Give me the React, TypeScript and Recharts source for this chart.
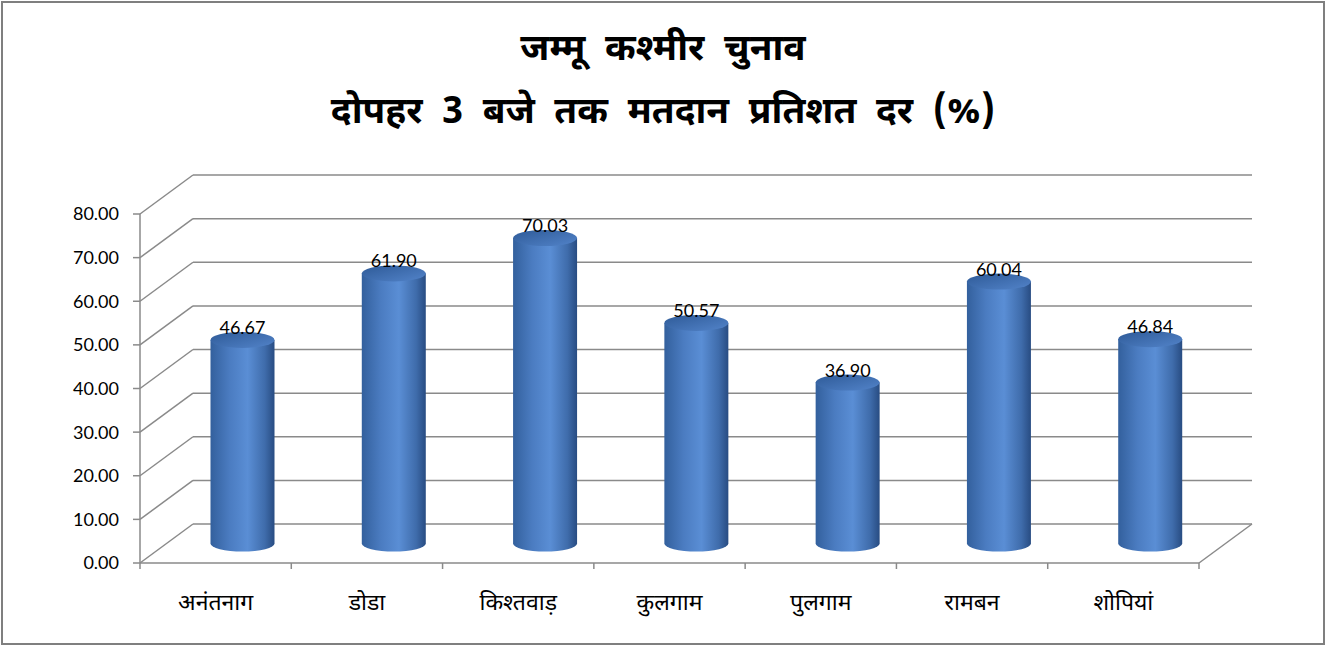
import { BarChart, Bar, XAxis, YAxis, CartesianGrid } from 'recharts';

const districts = ['अनंतनाग', 'डोडा', 'किश्तवाड़', 'कुलगाम', 'पुलगाम', 'रामबन', 'शोपियां'];
const turnout = [46.67, 61.9, 70.03, 50.57, 36.9, 60.04, 46.84];
const yTicks = [0, 10, 20, 30, 40, 50, 60, 70, 80];
const titleLines = ['जम्मू कश्मीर चुनाव', 'दोपहर 3 बजे तक मतदान प्रतिशत दर (%)'];

const data = districts.map((name, i) => ({ name, value: turnout[i] }));

// depth of the 3-D box (back wall offset from the front plane)
const DX = 53;
const DY = -39;
const GRID = '#8a8a8a';
const NUM_FONT = 'Lato, "Open Sans", sans-serif';
const DEVA_FONT = '"Noto Sans Devanagari", "Noto Sans", sans-serif';

function GridLine(props: any) {
  const { x1, y1, x2, y2, index } = props;
  const bottom = props.y != null && props.height != null ? props.y + props.height : null;
  const isFloor = bottom != null && Math.abs(y1 - bottom) < 1;
  return (
    <g key={`g-${index}`}>
      <line x1={x1} y1={y1} x2={x1 + DX} y2={y1 + DY} stroke={GRID} strokeWidth={1.5} />
      <line x1={x1 + DX} y1={y1 + DY} x2={x2 + DX} y2={y2 + DY} stroke={GRID} strokeWidth={1.5} />
      {isFloor && (
        <line x1={x2} y1={y2} x2={x2 + DX} y2={y2 + DY} stroke={GRID} strokeWidth={1.5} />
      )}
    </g>
  );
}

function Cylinder(props: any) {
  const { x, y, width, height, value } = props;
  if (width == null || height == null) return null;
  const rx = width / 2;
  const ry = 8;
  const cx = x + rx + DX / 2;
  const top = y + DY / 2;
  const bot = y + height + DY / 2;
  const x0 = cx - rx;
  const x1 = cx + rx;
  return (
    <g>
      <path
        d={`M${x0},${top} L${x0},${bot} A${rx},${ry} 0 0 0 ${x1},${bot} L${x1},${top} Z`}
        fill="url(#cylBody)"
      />
      <ellipse cx={cx} cy={top} rx={rx} ry={ry} fill="url(#cylTop)" />
      <text
        x={cx}
        y={top - 6}
        textAnchor="middle"
        fontFamily={NUM_FONT}
        fontSize={18}
        fill="#000"
      >
        {Number(value).toFixed(2)}
      </text>
    </g>
  );
}

function DistrictTick(props: any) {
  const { x, y, payload, index } = props;
  const off = payload?.offset ?? 75.6;
  const last = index === districts.length - 1;
  return (
    <g>
      <line x1={x - off} y1={y} x2={x - off} y2={y + 6} stroke={GRID} strokeWidth={1.5} />
      {last && <line x1={x + off} y1={y} x2={x + off} y2={y + 6} stroke={GRID} strokeWidth={1.5} />}
      <text x={x} y={y + 47} textAnchor="middle" fontFamily={DEVA_FONT} fontSize={23} fill="#000">
        {payload.value}
      </text>
    </g>
  );
}

export default function App() {
  return (
    <div
      style={{
        position: 'absolute',
        left: 0,
        top: 0,
        width: 1326,
        height: 646,
        background: '#fff',
      }}
    >
      <div
        style={{
          position: 'absolute',
          left: 1,
          top: 1,
          width: 1324,
          height: 644,
          boxSizing: 'border-box',
          border: '2px solid #7f7f7f',
        }}
      />
      {titleLines.map((t, i) => (
        <div
          key={t}
          style={{
            position: 'absolute',
            left: 0,
            width: 1326,
            top: 26 + i * 63,
            textAlign: 'center',
            fontFamily: DEVA_FONT,
            fontWeight: 'bold',
            fontSize: 37,
            lineHeight: '50px',
            wordSpacing: 10,
            color: '#000',
          }}
        >
          {t}
        </div>
      ))}
      <BarChart
        width={1326}
        height={646}
        data={data}
        margin={{ top: 214, right: 127, bottom: 23, left: 60 }}
        style={{ position: 'absolute', left: 0, top: 0 }}
      >
        <defs>
          <linearGradient id="cylBody" x1="0" y1="0" x2="1" y2="0">
            <stop offset="0%" stopColor="#33609d" />
            <stop offset="30%" stopColor="#4b7cc1" />
            <stop offset="58%" stopColor="#5a8ed5" />
            <stop offset="85%" stopColor="#3f6cab" />
            <stop offset="100%" stopColor="#284c82" />
          </linearGradient>
          <linearGradient id="cylTop" x1="0" y1="0" x2="1" y2="1">
            <stop offset="0%" stopColor="#2e5a97" />
            <stop offset="100%" stopColor="#5283c9" />
          </linearGradient>
        </defs>
        <CartesianGrid vertical={false} horizontal={(p: any) => <GridLine {...p} />} />
        <XAxis
          dataKey="name"
          height={60}
          axisLine={{ stroke: GRID, strokeWidth: 1.5 }}
          tickLine={false}
          tickSize={0}
          tickMargin={0}
          interval={0}
          tick={<DistrictTick />}
        />
        <YAxis
          width={80}
          domain={[0, 80]}
          ticks={yTicks}
          interval={0}
          tickSize={7}
          tickMargin={14}
          axisLine={{ stroke: GRID, strokeWidth: 1.5 }}
          tickLine={{ stroke: GRID, strokeWidth: 1.5 }}
          tickFormatter={(v: number) => v.toFixed(2)}
          tick={{ fill: '#000', fontSize: 18, fontFamily: NUM_FONT }}
        />
        <Bar dataKey="value" barSize={64} shape={<Cylinder />} isAnimationActive={false} />
      </BarChart>
    </div>
  );
}
